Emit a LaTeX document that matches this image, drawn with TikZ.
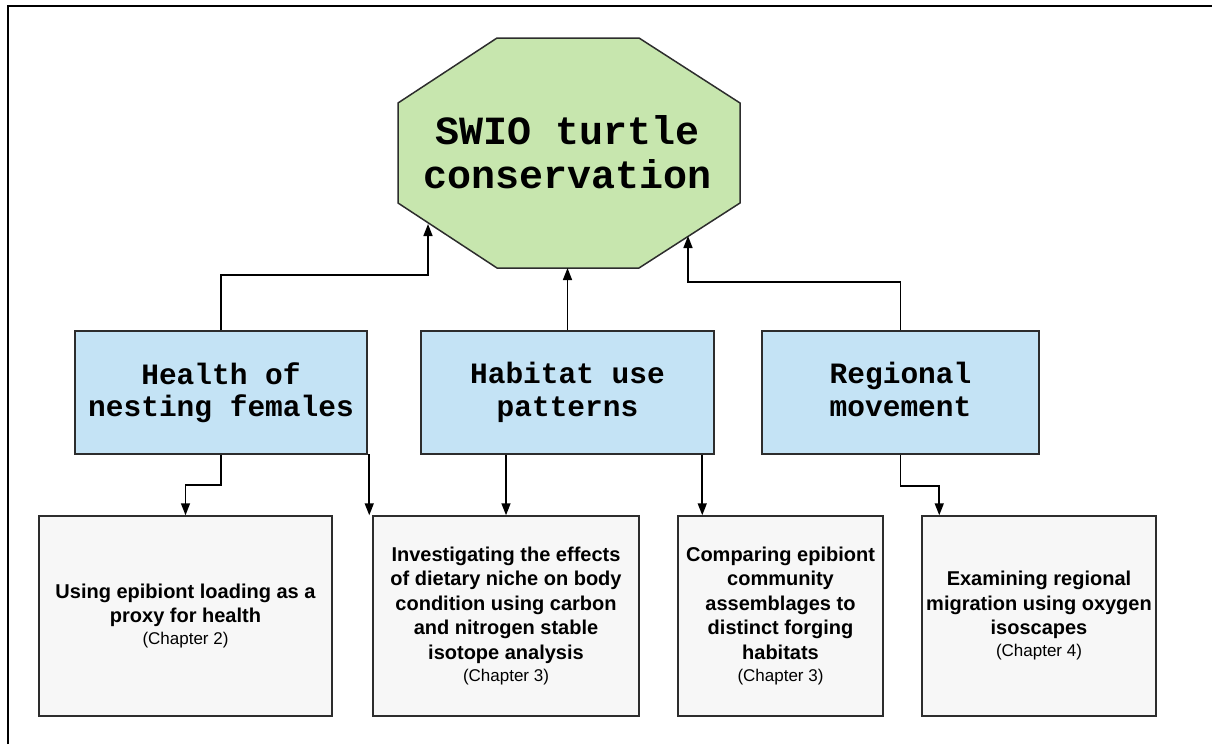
\documentclass[tikz,border=0pt]{standalone}
\usepackage{fontspec}
\setmainfont{Liberation Sans}
\newfontfamily\monofam{Liberation Mono}
\usetikzlibrary{arrows.meta}
\definecolor{octgreen}{RGB}{199,230,174}
\definecolor{boxblue}{RGB}{196,227,245}
\definecolor{boxgray}{RGB}{247,247,247}
\definecolor{edgegray}{RGB}{45,45,45}
\begin{document}
\begin{tikzpicture}[x=1pt,y=-1pt,
  arr/.style={draw=black, line width=1.6pt, -{Triangle[length=12pt,width=9pt]}},
  topic/.style={draw=edgegray, line width=1.5pt, fill=boxblue, minimum width=292pt,
    minimum height=123pt, align=center, inner sep=0pt,
    font=\monofam\bfseries\fontsize{29.5}{32.5}\selectfont},
  study/.style={draw=edgegray, line width=1.5pt, fill=boxgray, minimum height=200pt,
    align=center, inner sep=0pt, font=\bfseries\fontsize{20}{24.5}\selectfont}]
\useasboundingbox (0,0) rectangle (1212,744);
% outer frame (only top and left edges visible)
\draw[line width=2pt] (8,744) -- (8,6) -- (1212,6);
% octagon
\draw[fill=octgreen, draw=edgegray, line width=1.5pt]
  (497,38) -- (639,38) -- (740,103) -- (740,203) -- (639,268) -- (497,268)
  -- (398,203) -- (398,103) -- cycle;
\node[font=\monofam\bfseries\fontsize{40}{43.5}\selectfont, align=center, inner sep=0pt]
  (top) at (568,152) {SWIO turtle\\conservation};
\coordinate (oL) at (428,224);
\coordinate (oB) at (568,268);
\coordinate (oR) at (688,236);
% topic boxes
\node[topic] (h) at (221,392.5) {Health of\\nesting females};
\node[topic, minimum width=293pt] (hab) at (567.5,392.5) {Habitat use\\patterns};
\node[topic, minimum width=277pt] (reg) at (900.5,392.5) {Regional\\movement\vphantom{g}};
% study boxes
\node[study, minimum width=293pt] (b1) at (185.5,616)
  {Using epibiont loading as a\\proxy for health\\[-2.5pt]
   {\mdseries\fontsize{17}{22}\selectfont (Chapter 2)}};
\node[study, minimum width=266pt] (b2) at (506,616)
  {Investigating the effects\\of dietary niche on body\\condition using carbon\\and nitrogen stable\\isotope analysis\\[-2.5pt]
   {\mdseries\fontsize{17}{22}\selectfont (Chapter 3)}};
\node[study, minimum width=205pt] (b3) at (780.5,616)
  {Comparing epibiont\\community\\assemblages to\\distinct forging\\habitats\\[-2.5pt]
   {\mdseries\fontsize{17}{22}\selectfont (Chapter 3)}};
\node[study, minimum width=234pt] (b4) at (1039,616)
  {Examining regional\\migration using oxygen\\isoscapes\\[-2.5pt]
   {\mdseries\fontsize{17}{22}\selectfont (Chapter 4)}};
\coordinate (b2in) at ([xshift=-3pt]b2.north west);
\coordinate (b3in) at ([xshift=25pt]b3.north west);
\coordinate (b4in) at ([xshift=18pt]b4.north west);
% connectors
\draw[arr] (h.north) -- ++(0,-55) -| (oL);
\draw[arr] (hab.north) -- (hab.north |- oB);
\draw[arr] (reg.north) -- ++(0,-48) -| (oR);
\draw[arr] (h.south) -- ++(0,30) -| (b1.north);
\draw[arr] (h.south east) -| (b2in);
\draw[arr] (b2.north |- hab.south) -- (b2.north);
\draw[arr] (b3in |- hab.south) -- (b3in);
\draw[arr] (reg.south) -- ++(0,31) -| (b4in);
\end{tikzpicture}
\end{document}
